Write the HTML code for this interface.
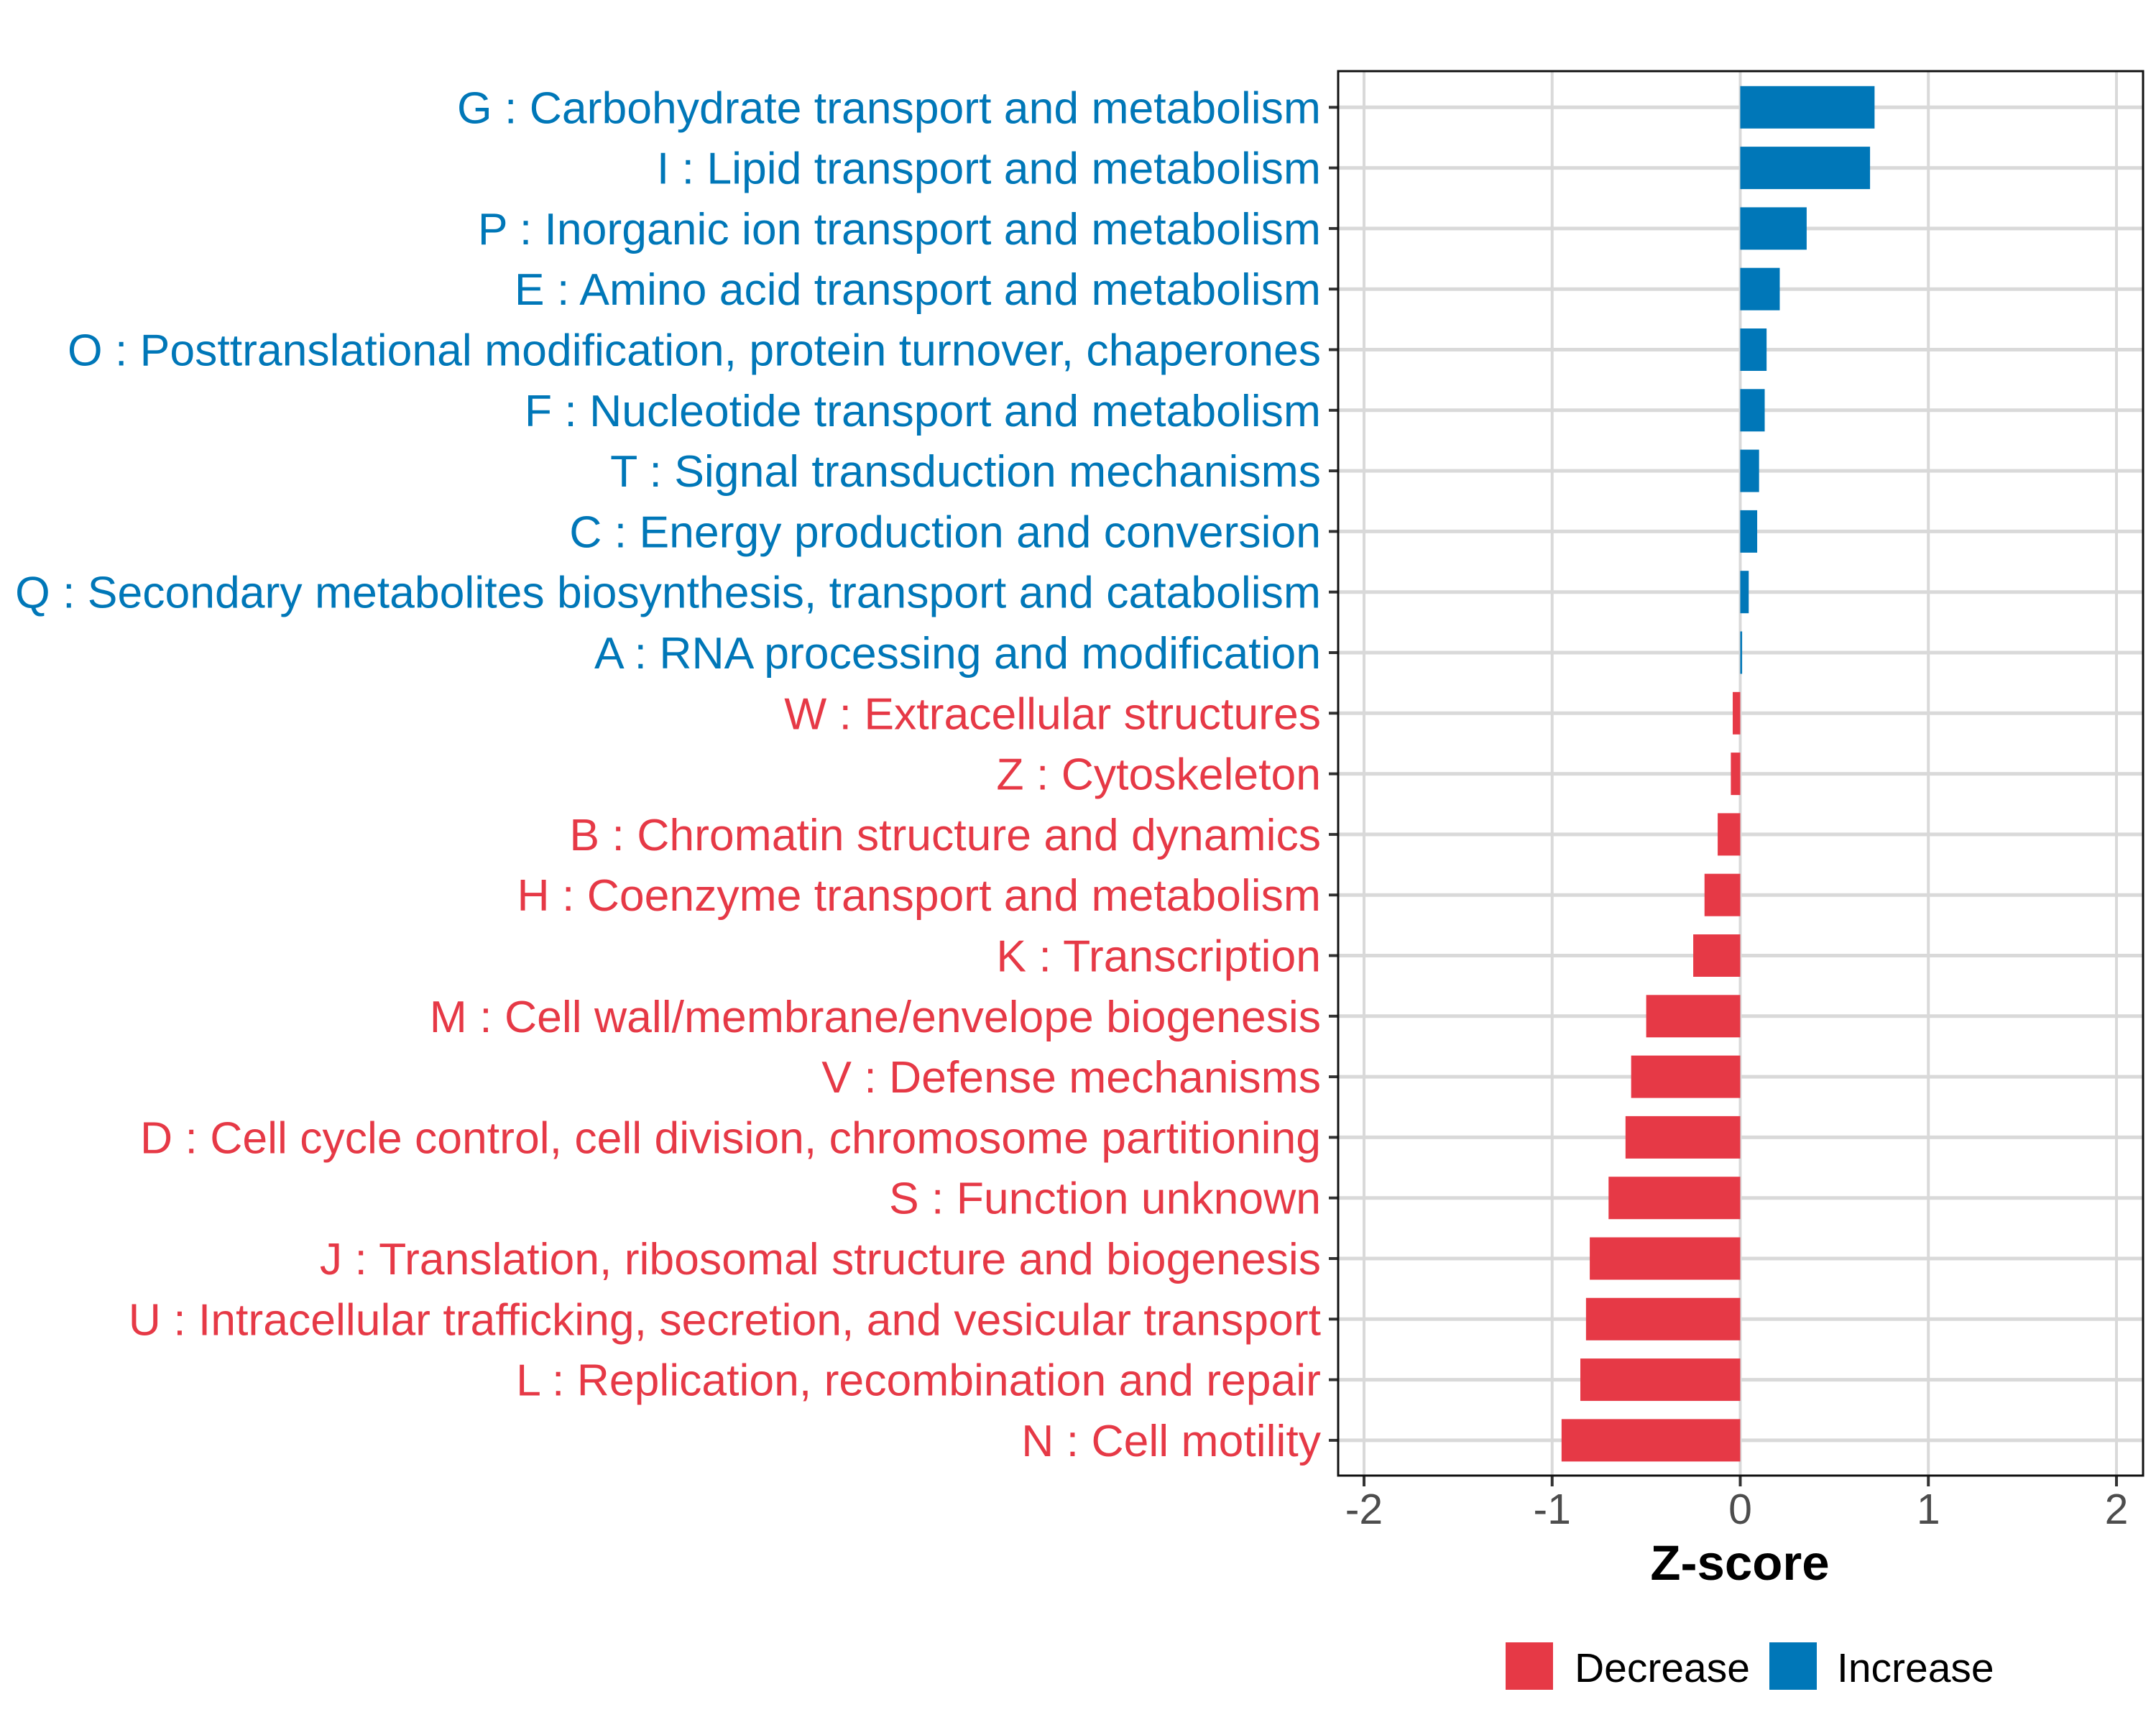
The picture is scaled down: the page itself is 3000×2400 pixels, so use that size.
<!DOCTYPE html>
<html><head><meta charset="utf-8"><style>html,body{margin:0;padding:0;background:#fff}svg{display:block}</style></head>
<body>
<svg id="chart" width="3000" height="2400" xmlns="http://www.w3.org/2000/svg" font-family="Liberation Sans, Arial, sans-serif">
<rect width="3000" height="2400" fill="#fff"/>
<g id="grid"></g><g id="bars"></g><g id="ylabels"></g><g id="xaxis"></g>
<rect x="1862" y="99" width="1120" height="1954" fill="none" stroke="#111" stroke-width="3"/>
<text x="2421" y="2198" font-size="69" font-weight="bold" text-anchor="middle">Z-score</text>
<g>
<rect x="2095" y="2285" width="66" height="66" fill="#E63946"/>
<text x="2191" y="2340" font-size="57">Decrease</text>
<rect x="2462" y="2285" width="66" height="66" fill="#0077B8"/>
<text x="2556" y="2340" font-size="57">Increase</text>
</g>
</svg>
<script>
const categories = ["G : Carbohydrate transport and metabolism","I : Lipid transport and metabolism","P : Inorganic ion transport and metabolism","E : Amino acid transport and metabolism","O : Posttranslational modification, protein turnover, chaperones","F : Nucleotide transport and metabolism","T : Signal transduction mechanisms","C : Energy production and conversion","Q : Secondary metabolites biosynthesis, transport and catabolism","A : RNA processing and modification","W : Extracellular structures","Z : Cytoskeleton","B : Chromatin structure and dynamics","H : Coenzyme transport and metabolism","K : Transcription","M : Cell wall/membrane/envelope biogenesis","V : Defense mechanisms","D : Cell cycle control, cell division, chromosome partitioning","S : Function unknown","J : Translation, ribosomal structure and biogenesis","U : Intracellular trafficking, secretion, and vesicular transport","L : Replication, recombination and repair","N : Cell motility"];
const zscores = [0.714,0.69,0.353,0.21,0.14,0.13,0.10,0.09,0.045,0.01,-0.04,-0.05,-0.12,-0.19,-0.25,-0.50,-0.58,-0.61,-0.70,-0.80,-0.82,-0.85,-0.95];
const xTicks = [-2,-1,0,1,2];
const xTickLabels = ["-2","-1","0","1","2"];
const NS = "http://www.w3.org/2000/svg";
const x0 = 2421.5, unit = 261.75, rowTop = 149.3, rowStep = 84.3;
const xs = v => x0 + v * unit;
const ys = i => rowTop + i * rowStep;
function mk(tag, attrs, parent){const e=document.createElementNS(NS,tag);for(const k in attrs)e.setAttribute(k,attrs[k]);parent.appendChild(e);return e;}
const grid=document.getElementById('grid'),bars=document.getElementById('bars'),yl=document.getElementById('ylabels'),xa=document.getElementById('xaxis');
xTicks.forEach((t,i)=>{
  const g=mk('line',{x1:xs(t),x2:xs(t),y1:99,y2:2053,stroke:'#d9d9d9','stroke-width':4},grid);
  
  
  const tk=mk('line',{x1:xs(t),x2:xs(t),y1:2053,y2:2068,stroke:'#333','stroke-width':4},xa);
  
  
  const tl=mk('text',{x:xs(t),y:2120,'font-size':59,'text-anchor':'middle',fill:'#4d4d4d'},xa);
  tl.textContent=xTickLabels[i];
  
  
});
categories.forEach((c,i)=>{
  const y=ys(i), v=zscores[i], col=v>=0?'#0077B8':'#E63946';
  const g=mk('line',{x1:1862,x2:2982,y1:y,y2:y,stroke:'#d9d9d9','stroke-width':5},grid);
  
  
  const b=mk('rect',{x:Math.min(xs(0),xs(v)),y:y-29.5,width:Math.abs(xs(v)-xs(0)),height:59,fill:col},bars);
  
  
  const tk=mk('line',{x1:1849,x2:1862,y1:y,y2:y,stroke:'#333','stroke-width':4},yl);
  
  
  const t=mk('text',{x:1838,y:y+22,'font-size':62.5,'text-anchor':'end',fill:col},yl);
  t.textContent=c;
  
  
});
</script>
</body></html>
